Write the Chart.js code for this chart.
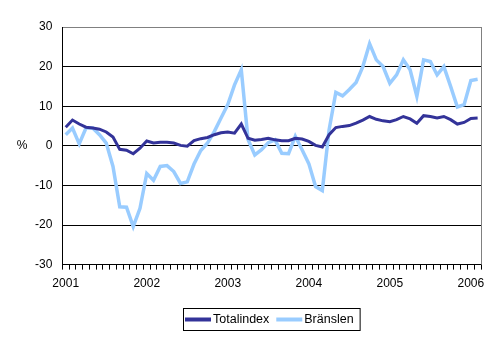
<!DOCTYPE html>
<html>
<head>
<meta charset="utf-8">
<script src="https://cdn.jsdelivr.net/npm/chart.js@4/dist/chart.umd.min.js"></script>
<style>
  html, body { margin: 0; padding: 0; background: #ffffff; }
</style>
</head>
<body>
<canvas id="chart" width="495" height="338"></canvas>
<script>
// Annual change, %, monthly from Jan 2001 to Feb 2006
var years = ["2001", "2002", "2003", "2004", "2005", "2006"];
var monthsInLastYear = 2;

var seriesNames = ["Totalindex", "Bränslen"];
var seriesColors = ["#333399", "#99ccff"];

var totalindex = [
  4.7, 6.5, 5.5, 4.7, 4.5, 4.2, 3.5, 2.2, -0.9, -1.1, -2.0, -0.6,
  1.2, 0.7, 0.9, 0.9, 0.7, 0.1, -0.1, 1.3, 1.8, 2.1, 2.8, 3.3,
  3.5, 3.2, 5.5, 1.9, 1.4, 1.6, 1.9, 1.5, 1.3, 1.3, 1.9, 1.7,
  1.1, 0.1, -0.3, 2.8, 4.6, 4.9, 5.1, 5.7, 6.5, 7.4, 6.7, 6.3,
  6.1, 6.6, 7.4, 6.8, 5.7, 7.6, 7.4, 7.0, 7.4, 6.6, 5.5, 5.9,
  6.9, 7.0
];

var bransle = [
  2.8, 4.5, 0.5, 4.5, 4.5, 2.8, 0.7, -5.2, -15.4, -15.5, -20.4, -15.8,
  -7.0, -8.7, -5.2, -5.0, -6.5, -9.5, -9.1, -4.6, -1.2, 0.7, 3.6, 7.0,
  10.4, 15.4, 19.2, 1.6, -2.3, -1.0, 0.8, 1.5, -1.9, -2.0, 2.4, -1.0,
  -4.5, -10.3, -11.3, 4.0, 13.5, 12.6, 14.2, 16.0, 20.0, 25.8, 21.7, 20.0,
  15.8, 17.9, 21.7, 19.2, 12.5, 21.7, 21.3, 17.9, 20.0, 15.0, 9.8, 10.4,
  16.5, 16.8
];

var yTicks = [-30, -20, -10, 0, 10, 20, 30];

// month labels like 2001M01
var months = [];
years.forEach(function (y, k) {
  var n = k === years.length - 1 ? monthsInLastYear : 12;
  for (var m = 1; m <= n; m++) {
    months.push(y + "M" + (m < 10 ? "0" + m : m));
  }
});

var fontFamily = '"Liberation Sans", Arial, sans-serif';

// "%" unit, grey right border of the plot area and a boxed legend
var extras = {
  id: "extras",
  beforeDatasetsDraw: function (chart) {
    var c = chart.ctx, a = chart.chartArea;
    c.save();
    c.strokeStyle = "#808080";
    c.lineWidth = 1;
    c.beginPath();
    c.moveTo(Math.round(a.right) + 0.5, a.top);
    c.lineTo(Math.round(a.right) + 0.5, a.bottom);
    c.stroke();
    c.restore();
  },
  afterDraw: function (chart) {
    var c = chart.ctx, a = chart.chartArea;
    c.save();
    c.fillStyle = "#000";
    c.font = "12px " + fontFamily;
    c.textAlign = "center";
    c.textBaseline = "middle";
    c.fillText("%", 22, chart.scales.y.getPixelForValue(0));

    c.font = "12.5px " + fontFamily;
    c.textAlign = "left";
    var sample = 26, gapText = 2, gapItem = 7, padL = 2, padR = 6;
    var widths = seriesNames.map(function (s) { return c.measureText(s).width; });
    var w = padL + padR;
    widths.forEach(function (tw, i) { w += sample + gapText + tw + (i ? gapItem : 0); });
    var boxTop = 308, boxH = 22;
    var left = Math.round((a.left + a.right) / 2 - w / 2);
    c.strokeStyle = "#000";
    c.lineWidth = 1;
    c.strokeRect(left + 0.5, boxTop + 0.5, w, boxH);
    var x = left + padL, cy = boxTop + boxH / 2 + 0.5;
    chart.data.datasets.forEach(function (ds, i) {
      c.strokeStyle = ds.borderColor;
      c.lineWidth = 4;
      c.beginPath();
      c.moveTo(x, cy);
      c.lineTo(x + sample, cy);
      c.stroke();
      x += sample + gapText;
      c.fillText(ds.label, x, cy);
      x += widths[i] + gapItem;
    });
    c.restore();
  }
};

new Chart(document.getElementById("chart").getContext("2d"), {
  type: "line",
  data: {
    labels: months,
    datasets: [
      {
        label: seriesNames[0],
        data: totalindex,
        borderColor: seriesColors[0],
        borderWidth: 3,
        pointRadius: 0,
        tension: 0,
        order: 1
      },
      {
        label: seriesNames[1],
        data: bransle,
        borderColor: seriesColors[1],
        borderWidth: 3.5,
        pointRadius: 0,
        tension: 0,
        order: 2
      }
    ]
  },
  options: {
    responsive: false,
    animation: false,
    layout: {
      padding: { left: 25, right: 14, top: 27, bottom: 40 }
    },
    plugins: {
      legend: { display: false },
      tooltip: { enabled: false }
    },
    scales: {
      x: {
        type: "category",
        offset: true,
        border: { color: "#000", width: 1 },
        grid: {
          offset: true,
          drawOnChartArea: false,
          drawTicks: true,
          tickLength: 5,
          color: "#000"
        },
        ticks: {
          autoSkip: false,
          maxRotation: 0,
          padding: 7,
          color: "#000",
          font: { family: fontFamily, size: 12 },
          callback: function (v) {
            var l = this.getLabelForValue(v);
            return l.slice(4) === "M01" ? l.slice(0, 4) : "";
          }
        }
      },
      y: {
        min: yTicks[0],
        max: yTicks[yTicks.length - 1],
        border: { color: "#000", width: 1 },
        grid: {
          drawTicks: false,
          color: function (ctx) {
            return ctx.tick && ctx.tick.value === yTicks[yTicks.length - 1] ? "#808080" : "#000";
          }
        },
        afterBuildTicks: function (scale) {
          scale.ticks = yTicks.map(function (v) { return { value: v }; });
        },
        ticks: {
          padding: 10,
          color: "#000",
          font: { family: fontFamily, size: 12 }
        }
      }
    }
  },
  plugins: [extras]
});
</script>
</body>
</html>
